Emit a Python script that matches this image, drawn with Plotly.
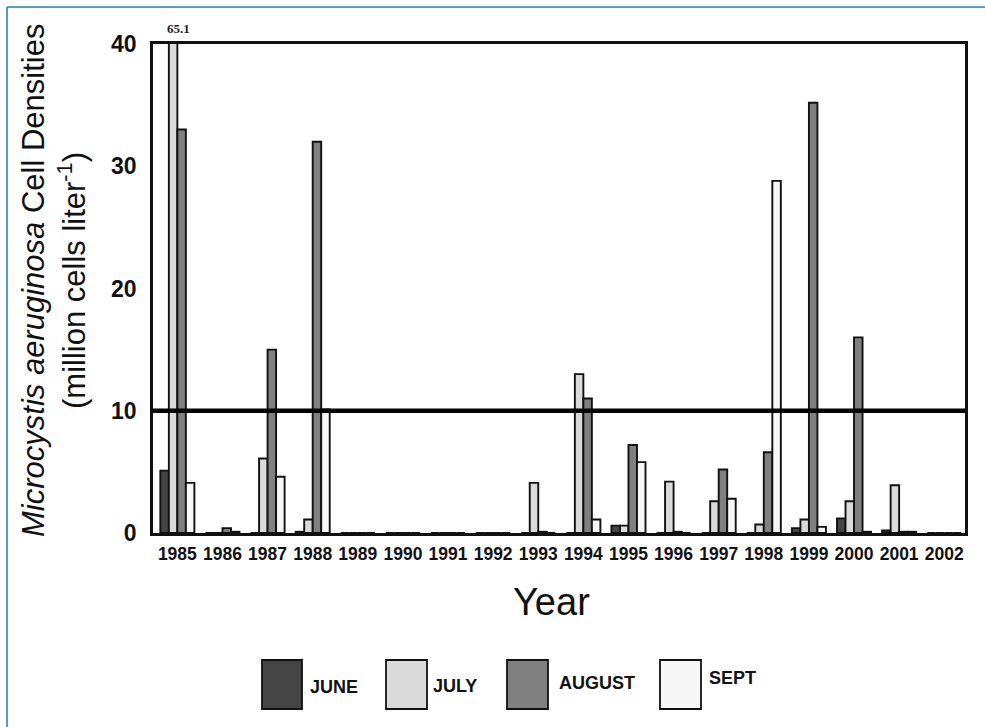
import plotly.graph_objects as go

years = [str(y) for y in range(1985, 2003)]
june = [5.1, 0, 0, 0.1, 0, 0, 0, 0, 0, 0, 0.6, 0, 0, 0, 0.4, 1.2, 0.2, 0]
july = [65.1, 0, 6.1, 1.1, 0, 0, 0, 0, 4.1, 13.0, 0.6, 4.2, 2.6, 0.7, 1.1, 2.6, 3.9, 0]
august = [33.0, 0.4, 15.0, 32.0, 0, 0, 0, 0, 0.1, 11.0, 7.2, 0.1, 5.2, 6.6, 35.2, 16.0, 0.1, 0]
sept = [4.1, 0.1, 4.6, 10.1, 0, 0, 0, 0, 0, 1.1, 5.8, 0, 2.8, 28.8, 0.5, 0.1, 0.1, 0]
series_names = ["JUNE", "JULY", "AUGUST", "SEPT"]
series_colors = ["#454545", "#dadada", "#808080", "#f7f7f7"]
threshold = 10
y_ticks = [0, 10, 20, 30, 40]
clipped_label = "65.1"

fig = go.Figure()
for name, vals, col in zip(series_names, [june, july, august, sept], series_colors):
    fig.add_trace(go.Bar(
        x=years, y=vals, name=name,
        marker=dict(color=col, line=dict(color="#111111", width=1.9)),
        showlegend=False,
    ))

fig.add_hline(y=threshold, line=dict(color="black", width=4.5), layer="above")

PW = 985 - 153 - 20
PH = 727 - 44 - 194
def px_to_paper(px):
    return (px - 153) / PW
def py_to_paper(py):
    return (533 - py) / PH

# clipped bar label (above the July 1985 bar)
fig.add_annotation(x=0, y=40, xref="x", yref="y", text="<b>" + clipped_label + "</b>",
                   showarrow=False, yanchor="bottom", yshift=6, xshift=1,
                   font=dict(family="Liberation Serif", size=13, color="#222"))

# y title (two lines)
fig.add_annotation(xref="paper", yref="paper", x=px_to_paper(33), y=py_to_paper(281),
                   xanchor="center", yanchor="middle",
                   text="<i>Microcystis aeruginosa</i> Cell Densities", textangle=-90,
                   showarrow=False, font=dict(family="Liberation Sans", size=31, color="#111"))
fig.add_annotation(xref="paper", yref="paper", x=px_to_paper(72), y=py_to_paper(281),
                   xanchor="center", yanchor="middle",
                   text="(million cells liter<sup>-1</sup>)", textangle=-90,
                   showarrow=False, font=dict(family="Liberation Sans", size=31, color="#111"))

# x title
fig.add_annotation(xref="paper", yref="paper", x=px_to_paper(551), y=py_to_paper(602),
                   xanchor="center", yanchor="middle",
                   text="Year", showarrow=False,
                   font=dict(family="Liberation Sans", size=38, color="#111"))

# legend (drawn manually, large boxes)
leg_boxes = [(262, 302), (386, 427), (507, 548), (660, 701)]
leg_text_x = [308, 431, 557, 707]
leg_text_y = [687, 686, 683, 678]
for (x0, x1), tx, ty, name, col in zip(leg_boxes, leg_text_x, leg_text_y, series_names, series_colors):
    fig.add_shape(type="rect", xref="paper", yref="paper",
                  x0=px_to_paper(x0), x1=px_to_paper(x1),
                  y0=py_to_paper(660), y1=py_to_paper(709),
                  fillcolor=col, line=dict(color="#111", width=1.8))
    fig.add_annotation(xref="paper", yref="paper", x=px_to_paper(tx), y=py_to_paper(ty),
                       xanchor="left", yanchor="middle", text=name, showarrow=False,
                       font=dict(family="Liberation Sans", size=18, color="#111", weight="bold"))

# outer frame (top + left teal line)
fig.add_shape(type="line", xref="paper", yref="paper", x0=px_to_paper(7), x1=px_to_paper(985),
              y0=py_to_paper(7), y1=py_to_paper(7), line=dict(color="#1f7fa6", width=1.5))
fig.add_shape(type="line", xref="paper", yref="paper", x0=px_to_paper(7), x1=px_to_paper(7),
              y0=py_to_paper(7), y1=py_to_paper(727), line=dict(color="#1f7fa6", width=1.5))

fig.update_layout(
    width=985, height=727,
    margin=dict(l=153, r=20, t=44, b=194),
    paper_bgcolor="white", plot_bgcolor="white",
    barmode="group", bargap=0.245, bargroupgap=0,
    font=dict(family="Liberation Sans", color="#111"),
)
fig.update_xaxes(type="category", range=[-0.54, len(years) - 0.54],
                 showline=True, linecolor="#111", linewidth=2.5, mirror=True,
                 ticks="", showgrid=False, zeroline=False,
                 tickfont=dict(family="Liberation Sans", size=17.5, color="#111", weight="bold"),
                 ticklabelstandoff=3)
fig.update_yaxes(range=[0, 40], tickvals=y_ticks, showline=True, linecolor="#111", linewidth=2.5,
                 mirror=True, ticks="", showgrid=False, zeroline=False,
                 tickfont=dict(family="Liberation Sans", size=23, color="#111", weight="bold"),
                 ticklabelstandoff=9)

fig.write_html("out.html", config={"displayModeBar": False},
               post_script="document.body.style.margin='0px';")
